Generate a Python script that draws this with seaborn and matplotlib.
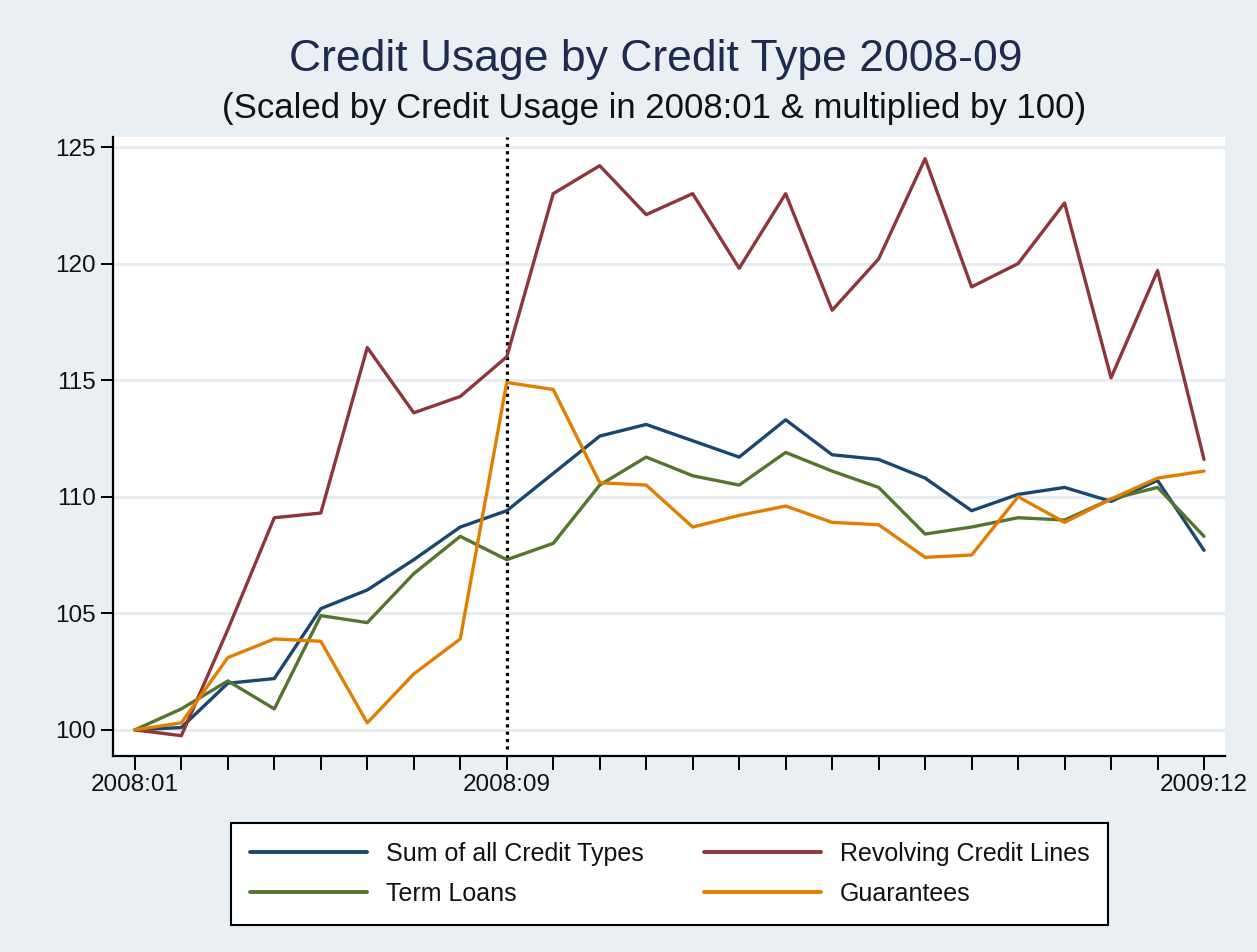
import numpy as np
import pandas as pd
import matplotlib
matplotlib.use("Agg")
import matplotlib.pyplot as plt
import seaborn as sns

# ---------------- data ----------------
months = ["2008:01", "2008:02", "2008:03", "2008:04", "2008:05", "2008:06",
          "2008:07", "2008:08", "2008:09", "2008:10", "2008:11", "2008:12",
          "2009:01", "2009:02", "2009:03", "2009:04", "2009:05", "2009:06",
          "2009:07", "2009:08", "2009:09", "2009:10", "2009:11", "2009:12"]
labelled_months = ["2008:01", "2008:09", "2009:12"]

sum_all = [100.0, 100.1, 102.0, 102.2, 105.2, 106.0, 107.3, 108.7, 109.4,
           111.0, 112.6, 113.1, 112.4, 111.7, 113.3, 111.8, 111.6, 110.8,
           109.4, 110.1, 110.4, 109.8, 110.7, 107.7]
revolving = [100.0, 99.75, 104.3, 109.1, 109.3, 116.4, 113.6, 114.3, 116.0,
             123.0, 124.2, 122.1, 123.0, 119.8, 123.0, 118.0, 120.2, 124.5,
             119.0, 120.0, 122.6, 115.1, 119.7, 111.6]
term_loans = [100.0, 100.9, 102.1, 100.9, 104.9, 104.6, 106.7, 108.3, 107.3,
              108.0, 110.5, 111.7, 110.9, 110.5, 111.9, 111.1, 110.4, 108.4,
              108.7, 109.1, 109.0, 109.9, 110.4, 108.3]
guarantees = [100.0, 100.3, 103.1, 103.9, 103.8, 100.3, 102.4, 103.9, 114.9,
              114.6, 110.6, 110.5, 108.7, 109.2, 109.6, 108.9, 108.8, 107.4,
              107.5, 110.0, 108.9, 109.9, 110.8, 111.1]

series_names = ["Sum of all Credit Types", "Revolving Credit Lines",
                "Term Loans", "Guarantees"]
series_values = [sum_all, revolving, term_loans, guarantees]
series_colors = ["#1A476F", "#90353B", "#55752F", "#E37E00"]
event_month = "2008:09"

# ---------------- frame ----------------
rows = []
for name, vals in zip(series_names, series_values):
    for i, (m, v) in enumerate(zip(months, vals)):
        rows.append({"idx": i, "month": m, "value": v, "series": name})
df = pd.DataFrame(rows)

sns.set_theme(style="white")
plt.rcParams["font.family"] = ["Liberation Sans", "DejaVu Sans"]

bg = "#E9EFF2"
gridc = "#E6ECEF"

fig = plt.figure(figsize=(12.57, 9.52), dpi=100, facecolor=bg)
ax = fig.add_axes([0.0899, 0.2059, 0.8846, 0.6502])
ax.set_facecolor("white")

sns.lineplot(data=df, x="idx", y="value", hue="series", hue_order=series_names,
             palette=dict(zip(series_names, series_colors)), linewidth=2.4,
             ax=ax, legend=True)

ax.axvline(months.index(event_month), ymin=0.012, ymax=1.0, color="black",
           linestyle=(0, (1, 1.3)), linewidth=2.3, zorder=1)

ax.set_xlim(-0.47, len(months) - 1 + 0.45)
ax.set_ylim(98.88, 125.43)
ax.set_xticks(range(len(months)))
ax.set_xticklabels([m if m in labelled_months else "" for m in months])
ax.set_yticks([100, 105, 110, 115, 120, 125])
ax.set_xlabel("")
ax.set_ylabel("")

ax.grid(axis="y", color=gridc, linewidth=2.2)
ax.grid(axis="x", visible=False)
ax.set_axisbelow(True)

for s in ["top", "right"]:
    ax.spines[s].set_visible(False)
for s in ["left", "bottom"]:
    ax.spines[s].set_color("black")
    ax.spines[s].set_linewidth(1.6)

ax.tick_params(axis="x", bottom=True, length=10, width=1.4, color="black",
               direction="out", pad=3, labelsize=17.5, labelcolor="#111111")
ax.tick_params(axis="y", left=True, length=8.6, width=1.4, color="black",
               direction="out", pad=4, labelsize=17.5, labelcolor="#111111")

fig.text(0.522, 0.937, "Credit Usage by Credit Type 2008-09", ha="center",
         va="center", fontsize=32, color="#1F2B4E")
fig.text(0.520, 0.886, "(Scaled by Credit Usage in 2008:01 & multiplied by 100)",
         ha="center", va="center", fontsize=25, color="#111111")

handles, labels = ax.get_legend_handles_labels()
ax.get_legend().remove()
hmap = dict(zip(labels, handles))
order = ["Sum of all Credit Types", "Term Loans", "Revolving Credit Lines", "Guarantees"]
leg = fig.legend([hmap[o] for o in order], order, ncol=2, loc="upper center",
                 bbox_to_anchor=(0.5326, 1 - 823 / 952), frameon=True,
                 fancybox=False, framealpha=1, facecolor="white",
                 edgecolor="black", fontsize=18, handlelength=4.7,
                 handletextpad=0.75, columnspacing=2.4, borderpad=0.75,
                 labelspacing=0.65, borderaxespad=0)
leg.get_frame().set_linewidth(1.5)
for line in leg.get_lines():
    line.set_linewidth(2.8)
for t in leg.get_texts():
    t.set_color("#111111")

fig.savefig("out.png", dpi=100, facecolor=bg)
